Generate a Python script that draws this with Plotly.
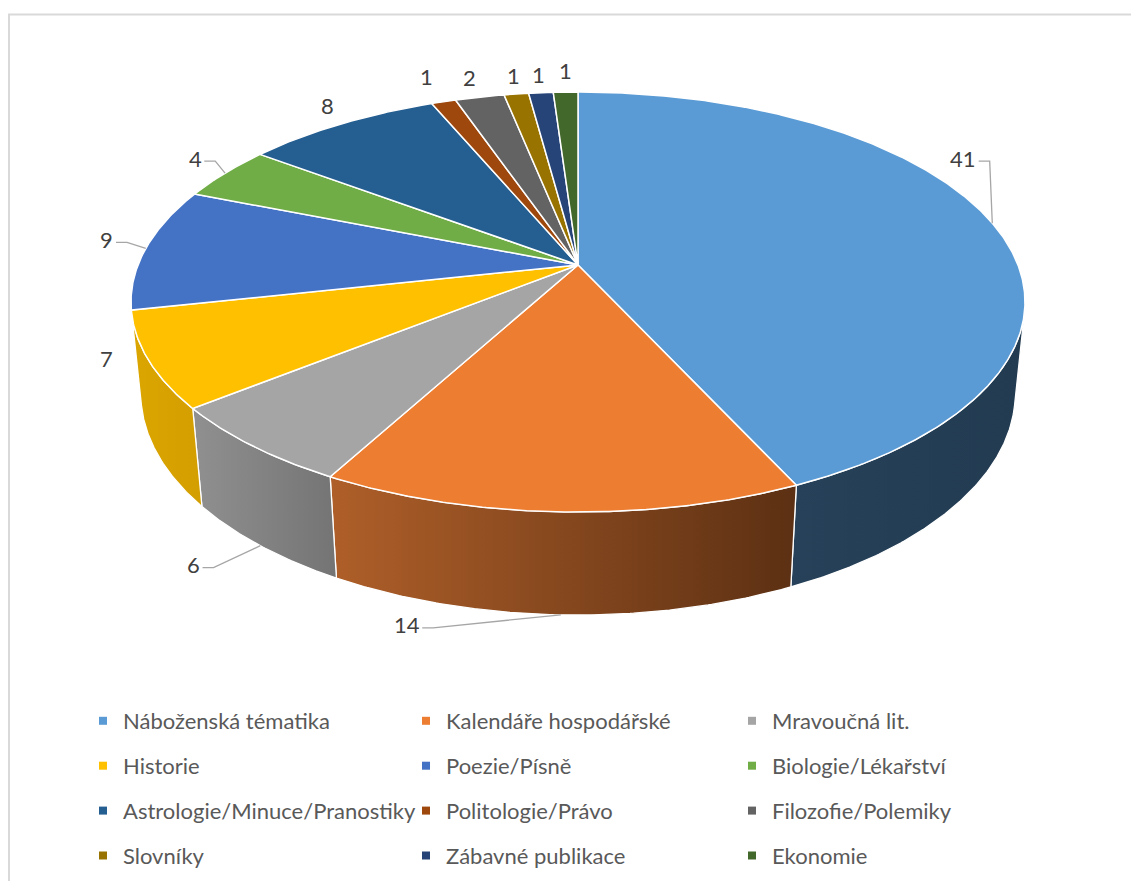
import numpy as np
import plotly.graph_objects as go

# ---------------- data ----------------
categories = [
    "Náboženská tématika", "Kalendáře hospodářské", "Mravoučná lit.",
    "Historie", "Poezie/Písně", "Biologie/Lékařství",
    "Astrologie/Minuce/Pranostiky", "Politologie/Právo", "Filozofie/Polemiky",
    "Slovníky", "Zábavné publikace", "Ekonomie",
]
values = [41, 14, 6, 7, 9, 4, 8, 1, 2, 1, 1, 1]

# ---------------- styles ----------------
colors = ["#5B9BD5", "#ED7D31", "#A5A5A5", "#FFC000", "#4472C4", "#70AD47",
          "#255E91", "#9E480E", "#636363", "#997300", "#264478", "#43682B"]
wall_shades = {
    0: ["#264159", "#223B51"],
    1: ["#AF5F29", "#5C3013"],
    2: ["#909090", "#747474"],
    3: ["#DCA600", "#D39E00"],
}
# label placement (offsets from slice anchor, pixels), leader flags
label_level = [0, 1, 1, 0, 0, 0, 0, 0, 0, 0, 0, 0]
label_dx = [-29, -154, -67, -42, -39, -30, -13, -17, -10, -3, -2, 0]
label_dy = [-65, 10, 19, -2, -9, -15, -19, -25, -20, -19, -18, -22]
label_leader = [True, True, True, False, True, True, False, False, False, False, False, False]

FONT = "Lato, 'Open Sans', sans-serif"
FS = 22
W, H = 1131, 881

# ---------------- perspective pie geometry ----------------
CX, CY = 578.0, 265.0
SIN_A = 0.4625
COS_A = np.sqrt(1 - SIN_A ** 2)
DIST = 5.032
FOC = 2214.0
THICK = 0.237


def proj(theta_deg, r, level):
    th = np.radians(np.asarray(theta_deg, dtype=float))
    X = r * np.sin(th)
    Z = -r * np.cos(th)
    Y = -THICK * level
    ry = Y - DIST * SIN_A
    rz = Z - DIST * COS_A
    depth = -SIN_A * ry - COS_A * rz
    yc = COS_A * ry - SIN_A * rz
    return CX + FOC * X / depth, CY - FOC * yc / depth


def arc(a0, a1, step=0.4):
    n = max(2, int(abs(a1 - a0) / step) + 1)
    return np.linspace(a0, a1, n)


total = float(sum(values))
bounds = np.concatenate([[0.0], np.cumsum(values) / total * 360.0])
vis_lo = np.degrees(np.arccos(-1.0 / (DIST * COS_A)))
vis_hi = 360.0 - vis_lo

fig = go.Figure()

# side walls (front, visible part only)
for i, v in enumerate(values):
    a0, a1 = bounds[i], bounds[i + 1]
    w0, w1 = max(a0, vis_lo), min(a1, vis_hi)
    if w1 <= w0:
        continue
    t = arc(w0, w1)
    xt, yt = proj(t, 1.0, 0)
    xb, yb = proj(t[::-1], 1.0, 1)
    xs = np.concatenate([xt, xb, xt[:1]])
    ys = np.concatenate([yt, yb, yt[:1]])
    sh = wall_shades.get(i, [colors[i], colors[i]])
    fig.add_trace(go.Scatter(
        x=xs, y=ys, mode="lines", fill="toself",
        fillgradient=dict(type="horizontal", start=float(xs.min()), stop=float(xs.max()),
                          colorscale=[[0, sh[0]], [1, sh[1]]]),
        line=dict(color="white", width=1.3),
        legendgroup=categories[i], showlegend=False, hoverinfo="skip"))

# top faces
apx, apy = proj(0.0, 0.0, 0)
for i, v in enumerate(values):
    t = arc(bounds[i], bounds[i + 1])
    xa, ya = proj(t, 1.0, 0)
    xs = np.concatenate([[apx], xa, [apx]])
    ys = np.concatenate([[apy], ya, [apy]])
    fig.add_trace(go.Scatter(
        x=xs, y=ys, mode="lines", fill="toself", fillcolor=colors[i],
        line=dict(color="white", width=1.5),
        legendgroup=categories[i], showlegend=False,
        text=f"{categories[i]}: {v}", hoverinfo="text", hoveron="fills"))

# data labels + leader lines
for i, v in enumerate(values):
    mid = (bounds[i] + bounds[i + 1]) / 2
    ax_, ay_ = proj(mid, 1.0, label_level[i])
    lx, ly = ax_ + label_dx[i], ay_ + label_dy[i]
    fig.add_annotation(x=lx, y=ly, text=str(v), showarrow=False,
                       font=dict(family=FONT, size=FS, color="#404040"))
    if label_leader[i]:
        hw = 6.2 * len(str(v)) + 3
        sx, sy = lx + hw, ly + 3
        fig.add_trace(go.Scatter(
            x=[sx, sx + 11, ax_], y=[sy, sy, ay_], mode="lines",
            line=dict(color="#A6A6A6", width=1.3),
            showlegend=False, hoverinfo="skip"))

# legend entries (three columns)
legend_names = ["legend", "legend2", "legend3"]
for i, cat in enumerate(categories):
    fig.add_trace(go.Scatter(
        x=[None], y=[None], mode="markers", name=cat,
        marker=dict(symbol="square", size=8, color=colors[i]),
        legend=legend_names[i % 3], legendgroup=cat, showlegend=True))

text_x = [123, 446, 772]
leg_common = dict(orientation="v", xanchor="left", yanchor="top",
                  bgcolor="rgba(0,0,0,0)", tracegroupgap=13.3,
                  font=dict(family=FONT, size=FS, color="#595959"))
legend_top = 700
layout_legends = {}
for k, name in enumerate(legend_names):
    layout_legends[name] = dict(x=(text_x[k] - 40) / W,
                                y=1 - legend_top / H, **leg_common)

fig.update_layout(
    width=W, height=H, autosize=False,
    margin=dict(l=0, r=0, t=0, b=0),
    paper_bgcolor="white", plot_bgcolor="white",
    xaxis=dict(range=[0, W], visible=False, fixedrange=True),
    yaxis=dict(range=[H, 0], visible=False, fixedrange=True),
    showlegend=True,
    shapes=[dict(type="rect", xref="paper", yref="paper",
                 x0=9 / W, y0=-0.02, x1=1.02, y1=1 - 14.5 / H,
                 line=dict(color="#D9D9D9", width=2), fillcolor="rgba(0,0,0,0)")],
    **layout_legends,
)

fig.write_html("out.html",
               config={"displayModeBar": False},
               post_script="document.body.style.margin='0';document.body.style.overflow='hidden';")
